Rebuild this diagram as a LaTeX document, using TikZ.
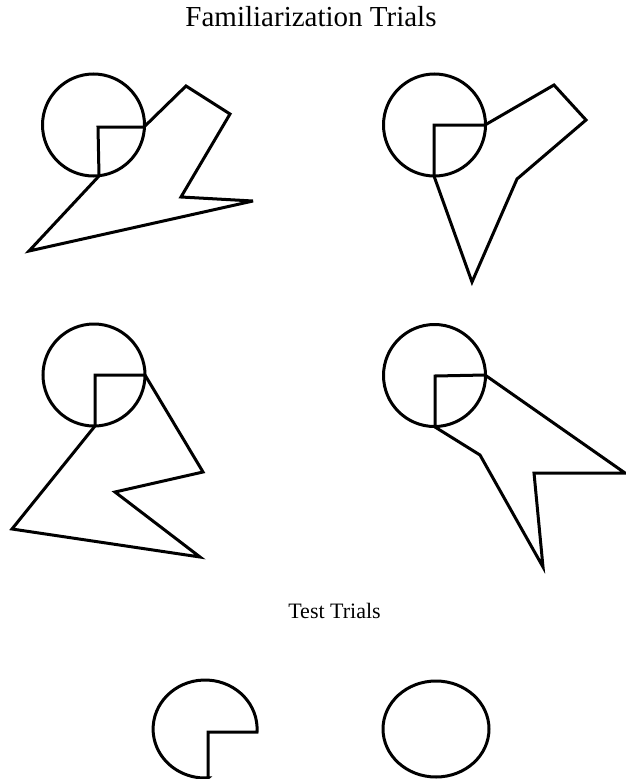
\documentclass[tikz,border=0pt]{standalone}
\usepackage{fontspec}
\setmainfont{Liberation Serif}
\begin{document}
\begin{tikzpicture}[x=1pt,y=-1pt,
  figline/.style={line width=3pt, line join=miter, miter limit=5, black},
  bigtitle/.style={anchor=base, inner sep=0pt, font=\fontsize{29}{34}\selectfont},
  smalltitle/.style={anchor=base, inner sep=0pt, font=\fontsize{22}{26}\selectfont}]
\useasboundingbox (0,0) rectangle (626,779);
\node[bigtitle] (famtitle) at (311,26) {Familiarization Trials};
% figure 1 (top left)
\draw[figline] (93.5,125) circle [radius=51];
\draw[figline] (99,176) -- (98,127) -- (144,127) -- (186,86) -- (230,114) -- (181,197) -- (253,201) -- (29,251) -- cycle;
% figure 2 (top right)
\draw[figline] (434.5,125) circle [radius=51];
\draw[figline] (434,176) -- (434,125) -- (485,125) -- (554,85) -- (586,120) -- (517,179) -- (472,282) -- cycle;
% figure 3 (middle left)
\draw[figline] (94,375) circle [radius=51];
\draw[figline] (95,426) -- (95,375) -- (145,375) -- (203,472) -- (115,492) -- (200,557) -- (12,529) -- cycle;
% figure 4 (middle right)
\draw[figline] (434.5,375.5) circle [radius=51];
\draw[figline] (435,427) -- (435,376) -- (485,375) -- (625,473) -- (534,473) -- (543,567) -- (480,455) -- cycle;
% test trials
\node[smalltitle] (testtitle) at (334.5,618) {Test Trials};
\draw[figline] (208,778) -- (208,732) -- (257,732) arc[start angle=3.5, end angle=-273.3, x radius=52, y radius=49] -- cycle;
\draw[figline] (436,729) ellipse [x radius=53, y radius=48];
\end{tikzpicture}
\end{document}
